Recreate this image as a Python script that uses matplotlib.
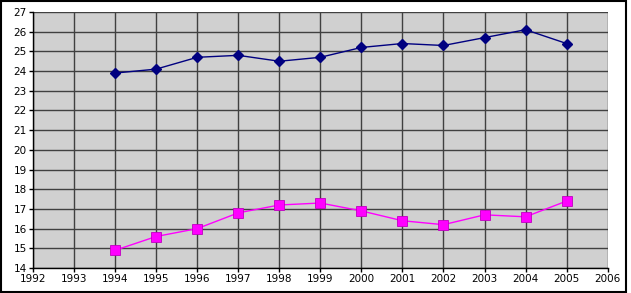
import matplotlib
matplotlib.use("Agg")
import matplotlib.pyplot as plt
from matplotlib.patches import Rectangle

# Datos
anios = [1994, 1995, 1996, 1997, 1998, 1999, 2000, 2001, 2002, 2003, 2004, 2005]
serie_azul = [23.9, 24.1, 24.7, 24.8, 24.5, 24.7, 25.2, 25.4, 25.3, 25.7, 26.1, 25.4]
serie_rosa = [14.9, 15.6, 16.0, 16.8, 17.2, 17.3, 16.9, 16.4, 16.2, 16.7, 16.6, 17.4]
xticks = list(range(1992, 2007))
yticks = list(range(14, 28))

fig = plt.figure(figsize=(6.31, 2.93), dpi=100)
ax = fig.add_axes([0.0523, 0.0853, 0.9107, 0.8737])
ax.set_facecolor("#d0d0d0")

ax.plot(anios, serie_azul, color="#000080", marker="D", markersize=5, lw=1, zorder=3)
ax.plot(anios, serie_rosa, color="#ff00ff", marker="s", markersize=6.5, lw=1,
        markeredgecolor="#c000c0", markeredgewidth=0.6, zorder=3)

ax.set_xlim(1992, 2006)
ax.set_ylim(14, 27)
ax.set_xticks(xticks)
ax.set_yticks(yticks)
ax.grid(True, color="#404040", lw=1)
ax.set_axisbelow(True)
for s in ["top", "right"]:
    ax.spines[s].set_visible(False)
for s in ["left", "bottom"]:
    ax.spines[s].set_color("black")
    ax.spines[s].set_linewidth(1)
ax.tick_params(labelsize=7.5, length=3, width=1, pad=1.5)

# Borde de la figura
fig.patches.append(Rectangle((0.001, 0.004), 0.9905, 0.994, transform=fig.transFigure,
                             fill=False, edgecolor="black", lw=1.5))

fig.savefig("out.png", dpi=100)
